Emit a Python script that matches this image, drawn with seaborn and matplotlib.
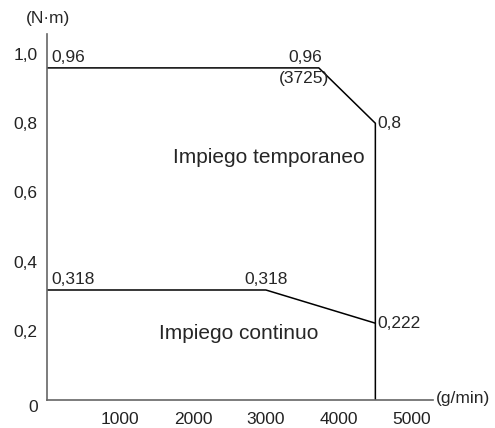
import matplotlib
matplotlib.use("Agg")
import matplotlib.pyplot as plt
import seaborn as sns
import pandas as pd

# data
temp_speed = [0, 3725, 4500, 4500]
temp_torque = [0.96, 0.96, 0.8, 0.0]
cont_speed = [0, 3000, 4500]
cont_torque = [0.318, 0.318, 0.222]
x_ticks = [1000, 2000, 3000, 4000, 5000]
y_ticks = [0.2, 0.4, 0.6, 0.8, 1.0]
y_tick_labels = ["0,2", "0,4", "0,6", "0,8", "1,0"]

sns.set_style("white")
plt.rcParams['font.family'] = ['Liberation Sans', 'DejaVu Sans']

fig = plt.figure(figsize=(4.95, 4.28), dpi=100)
ax = fig.add_axes([47/495, 1-400/428, (433-47)/495, (400-34)/428])

df_t = pd.DataFrame({"x": temp_speed, "y": temp_torque})
df_c = pd.DataFrame({"x": cont_speed, "y": cont_torque})
sns.lineplot(data=df_t, x="x", y="y", sort=False, estimator=None, color="black", lw=1.1, ax=ax)
sns.lineplot(data=df_c, x="x", y="y", sort=False, estimator=None, color="black", lw=1.1, ax=ax)

ax.set_xlim(0, 5290)
ax.set_ylim(0, 1.058)
ax.set_xticks(x_ticks)
ax.set_xticklabels([str(v) for v in x_ticks])
ax.set_yticks(y_ticks)
ax.set_yticklabels(y_tick_labels)
ax.set_xlabel("")
ax.set_ylabel("")
for s in ["top", "right"]:
    ax.spines[s].set_visible(False)
for s in ["left", "bottom"]:
    ax.spines[s].set_color("#666666")
    ax.spines[s].set_linewidth(1.2)
fs = 12.5
ax.tick_params(axis="both", direction="out", length=4, width=1, color="#666666",
               labelsize=fs, labelcolor="#222222")
ax.tick_params(axis="x", pad=5)
ax.tick_params(axis="y", pad=3)

ax.text(60, 0.968, "0,96", fontsize=fs, ha="left", va="bottom")
ax.text(3770, 0.968, "0,96", fontsize=fs, ha="right", va="bottom")
ax.text(3860, 0.952, "(3725)", fontsize=fs, ha="right", va="top")
ax.text(4530, 0.8, "0,8", fontsize=fs, ha="left", va="center")
ax.text(60, 0.326, "0,318", fontsize=fs, ha="left", va="bottom")
ax.text(3000, 0.326, "0,318", fontsize=fs, ha="center", va="bottom")
ax.text(4530, 0.222, "0,222", fontsize=fs, ha="left", va="center")
ax.text(3040, 0.70, "Impiego temporaneo", fontsize=15, ha="center", va="center")
ax.text(2630, 0.193, "Impiego continuo", fontsize=15, ha="center", va="center")
fig.text(26/495, 1-19/428, "(N·m)", fontsize=fs, ha="left", va="center")
fig.text(436/495, 1-399/428, "(g/min)", fontsize=fs, ha="left", va="center")
fig.text(33/495, 1-408/428, "0", fontsize=fs, ha="center", va="center")

fig.savefig("out.png", dpi=100)
